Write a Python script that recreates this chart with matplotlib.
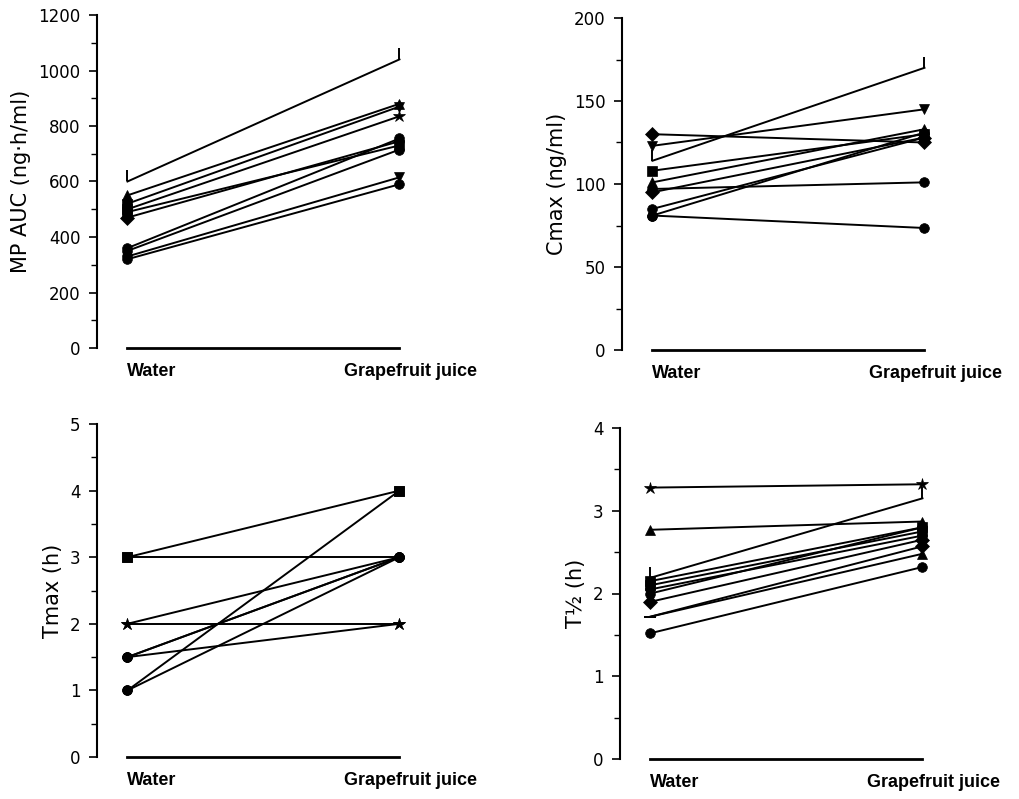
import matplotlib
matplotlib.use("Agg")
import matplotlib.pyplot as plt
from matplotlib.ticker import MultipleLocator

plt.rcParams['font.family'] = ['DejaVu Sans']

groups = ['Water', 'Grapefruit juice']

# MP AUC (ng*h/ml): water, grapefruit juice, marker at each end
auc_water = [600, 550, 520, 500, 490, 470, 360, 350, 330, 320]
auc_gj = [1040, 880, 870, 835, 730, 745, 755, 715, 615, 590]
auc_mw = [2, '^', 's', 's', 's', 'D', 'o', 'o', 'o', 'o']
auc_mg = [2, '^', 'v', '*', 's', 'o', 'o', 'o', 'v', 'o']

# Cmax (ng/ml)
cmax_water = [114, 123, 130, 108, 101, 95, 97, 85, 81, 81]
cmax_gj = [170, 145, 125, 130, 133, 128, 101, 128, 131, 73.5]
cmax_mw = [2, 'v', 'D', 's', '^', 'D', 'o', 'o', 'o', 'o']
cmax_mg = [2, 'v', 'D', 's', '^', 'D', 'o', 'o', 'o', 'o']

# Tmax (h)
tmax_water = [3, 3, 2, 2, 1.5, 1.5, 1.5, 1, 1]
tmax_gj = [4, 3, 3, 2, 3, 3, 2, 4, 3]
tmax_mw = ['s', 's', '*', '*', 'o', 'o', 'o', 'o', 'o']
tmax_mg = ['s', 'o', 'o', '*', 'o', 'o', '*', 's', 'o']

# T1/2 (h)
thalf_water = [3.28, 2.77, 2.19, 2.15, 2.1, 2.05, 2.0, 1.9, 1.72, 1.72, 1.52]
thalf_gj = [3.32, 2.87, 3.15, 2.8, 2.75, 2.7, 2.8, 2.65, 2.57, 2.48, 2.32]
thalf_mw = ['*', '^', 2, 's', 's', 'o', 'o', 'D', '_', '_', 'o']
thalf_mg = ['*', '^', 2, 's', 's', 'o', 'o', 'D', 'D', '^', 'o']

panels = [
    # values, end markers, ylabel, ymax, major, minor, spine x px, top px, bottom px
    (auc_water, auc_gj, auc_mw, auc_mg, 'MP AUC (ng·h/ml)', 1200, 200, 100, 97, 15, 348),
    (cmax_water, cmax_gj, cmax_mw, cmax_mg, 'Cmax (ng/ml)', 200, 50, 25, 622, 18, 350),
    (tmax_water, tmax_gj, tmax_mw, tmax_mg, 'Tmax (h)', 5, 1, 0.5, 97, 424, 757),
    (thalf_water, thalf_gj, thalf_mw, thalf_mg, 'T½ (h)', 4, 1, 0.5, 620, 428, 759),
]

W, H = 1019, 799
fig = plt.figure(figsize=(W / 100, H / 100), dpi=100)

xmin, xmax = -0.112, 1.05
unit = 272


def marker_style(m):
    ms = 9 if m == '*' else (8 if m in (2, '_') else 7)
    mew = 1.4 if m in (2, '_') else 0.5
    return dict(marker=m, markersize=ms, markeredgewidth=mew,
                markerfacecolor='black', markeredgecolor='black')


for water, gj, mw, mg, ylabel, ymax, major, minor, sx, top, bot in panels:
    width = (xmax - xmin) * unit
    ax = fig.add_axes([sx / W, 1 - bot / H, width / W, (bot - top) / H])
    for w, g, a, b in zip(water, gj, mw, mg):
        ax.plot([0, 1], [w, g], color='black', lw=1.4, clip_on=False)
        ax.plot([0], [w], linestyle='none', clip_on=False, **marker_style(a))
        ax.plot([1], [g], linestyle='none', clip_on=False, **marker_style(b))
    ax.set_xlim(xmin, xmax)
    ax.set_ylim(0, ymax)
    ax.yaxis.set_major_locator(MultipleLocator(major))
    ax.yaxis.set_minor_locator(MultipleLocator(minor))
    ax.tick_params(axis='y', which='major', length=6, width=1.2,
                   labelsize=12, pad=6)
    ax.tick_params(axis='y', which='minor', length=4, width=1.0)
    ax.set_xticks([])
    ax.spines['top'].set_visible(False)
    ax.spines['right'].set_visible(False)
    ax.spines['left'].set_linewidth(1.5)
    ax.spines['bottom'].set_bounds(0, 1)
    ax.spines['bottom'].set_linewidth(2)
    ax.set_ylabel(ylabel, fontsize=15, labelpad=5)
    tr = ax.get_xaxis_transform()
    ax.text(0, -0.045, groups[0], transform=tr, ha='left', va='top',
            fontsize=13, fontweight='bold', family='Liberation Sans')
    ax.text(1.04, -0.045, groups[1], transform=tr, ha='center', va='top',
            fontsize=13, fontweight='bold', family='Liberation Sans')

fig.savefig('out.png', dpi=100)
